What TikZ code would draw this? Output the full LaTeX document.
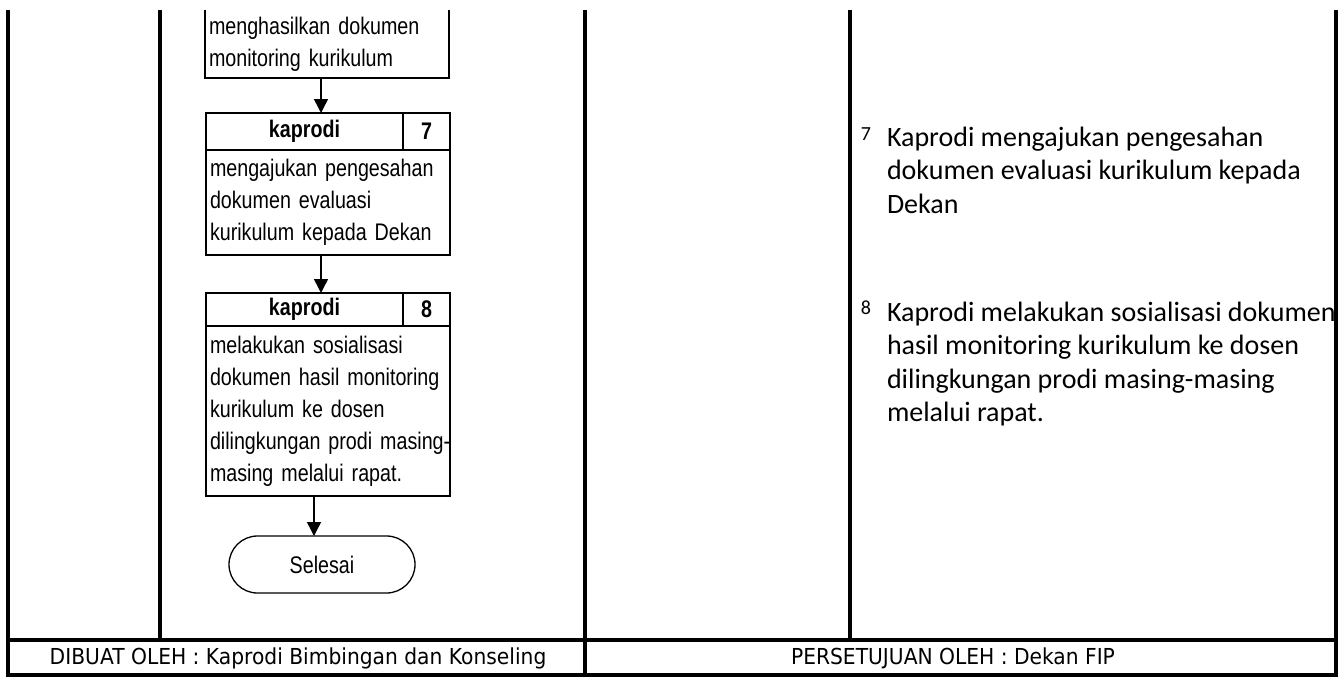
\documentclass[tikz,border=0pt]{standalone}
\usepackage{fontspec}
\usepackage{tikz}
\usetikzlibrary{positioning,shapes,arrows.meta}
\newfontfamily\narrowfont[FakeStretch=0.82]{Liberation Sans}
\newfontfamily\notefont{Carlito}
\newfontfamily\footfont[FakeStretch=0.92]{DejaVu Sans}

\begin{document}
\begin{tikzpicture}[x=1pt,y=-1pt]
\useasboundingbox (0,0) rectangle (1340,677);
\tikzstyle{every node}=[inner sep=0pt,outer sep=0pt];
\tikzstyle{lane}=[line width=4.5pt];
\tikzstyle{kepala}=[draw,line width=2.5pt,font=\narrowfont\bfseries\fontsize{24}{28}\selectfont];
\tikzstyle{isi}=[draw,line width=2.5pt,minimum width=244pt,text width=236pt,inner xsep=4pt,align=left,font=\narrowfont\fontsize{24}{32}\selectfont];
\tikzstyle{panah}=[line width=1.5pt,-{Triangle[width=14pt,length=14pt]}];
\tikzstyle{catatan}=[anchor=north west,align=left,font=\notefont\fontsize{28}{33.5}\selectfont];
\tikzstyle{nomor}=[anchor=north,font=\notefont\fontsize{20}{24}\selectfont];

% garis kolom
\foreach \x in {160,850} \draw[lane] (\x,10) -- (\x,641);
\foreach \x in {8,585,1336} \draw[lane] (\x,10) -- (\x,675);
\draw[lane] (6,640) -- (1338,640);
\draw[lane] (6,675) -- (1338,675);

% langkah 6 (terpotong)
\node[isi,draw=none,minimum height=68pt] (b6) at (327,44) {menghasilkan dokumen\\monitoring kurikulum};
\draw[line width=2.5pt] (b6.north west) -- (b6.south west) -- (b6.south east) -- (b6.north east);

% langkah 7
\node[kepala,minimum width=197pt,minimum height=37pt] (h7) at (304.5,131.5) {kaprodi};
\node[kepala,minimum width=47pt,minimum height=37pt] (n7) at (426.5,131.5) {7};
\node[isi,minimum height=105pt] (b7) at (328,202.5) {mengajukan pengesahan\\dokumen evaluasi\\kurikulum kepada Dekan};

% langkah 8
\node[kepala,minimum width=197pt,minimum height=33pt] (h8) at (304.5,309.5) {kaprodi};
\node[kepala,minimum width=47pt,minimum height=33pt] (n8) at (426.5,309.5) {8};
\node[isi,minimum height=170pt] (b8) at (328,411) {melakukan sosialisasi\\dokumen hasil monitoring\\kurikulum ke dosen\\\mbox{dilingkungan prodi masing-}\\masing melalui rapat.};

\node[draw,rounded rectangle,line width=1.3pt,minimum width=186pt,minimum height=57pt,font=\narrowfont\fontsize{24}{28}\selectfont] (end) at (322,564.5) {Selesai};

\draw[panah] ([xshift=-6pt]b6.south) -- ([xshift=-6pt]b6.south |- h7.north);
\draw[panah] ([xshift=-7pt]b7.south) -- ([xshift=-7pt]b7.south |- h8.north);
\draw[panah] ([xshift=-14pt]b8.south) -- ([xshift=-14pt]b8.south |- end.north);

% keterangan
\node[nomor] (k7) at (866,128) {7};
\node[catatan] (t7) at (887,127) {Kaprodi mengajukan pengesahan\\dokumen evaluasi kurikulum kepada\\Dekan};
\node[nomor] (k8) at (866,301) {8};
\node[catatan] (t8) at (887,302) {Kaprodi melakukan sosialisasi dokumen\\hasil monitoring kurikulum ke dosen\\dilingkungan prodi masing-masing\\melalui rapat.};

% kaki tabel
\node[font=\footfont\fontsize{22}{26}\selectfont] (dibuat) at (298,658) {DIBUAT OLEH : Kaprodi Bimbingan dan Konseling};
\node[font=\footfont\fontsize{22}{26}\selectfont] (setuju) at (953,658) {PERSETUJUAN OLEH : Dekan FIP};
\end{tikzpicture}
\end{document}
